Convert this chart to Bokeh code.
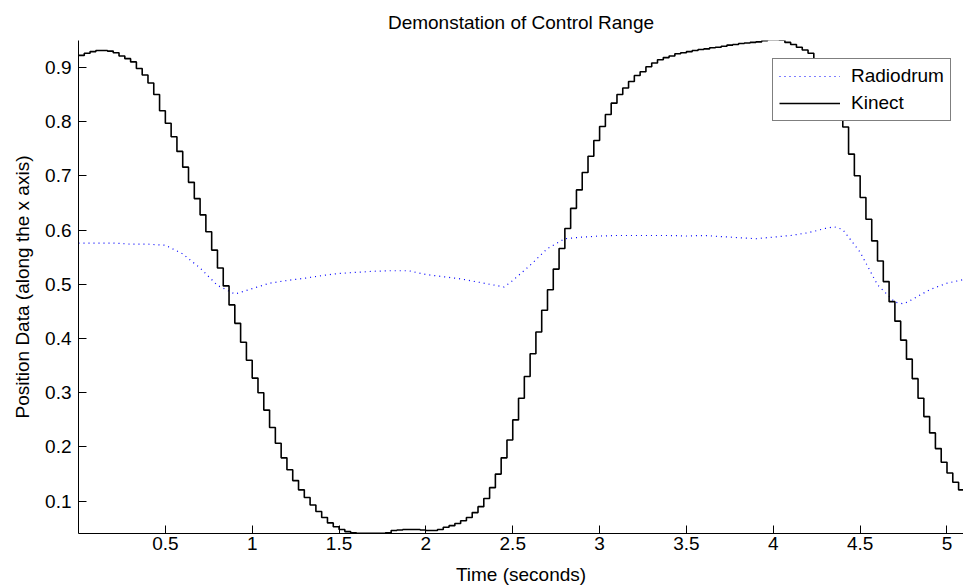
from bokeh.plotting import figure
from bokeh.models import FixedTicker, Range1d, Legend, LegendItem
from bokeh.embed import file_html
from bokeh.resources import INLINE

title_text = "Demonstation of Control Range"
x_label = "Time (seconds)"
y_label = "Position Data (along the x axis)"

x_ticks = [0.5, 1, 1.5, 2, 2.5, 3, 3.5, 4, 4.5, 5]
x_tick_labels = ["0.5", "1", "1.5", "2", "2.5", "3", "3.5", "4", "4.5", "5"]
y_ticks = [0.1, 0.2, 0.3, 0.4, 0.5, 0.6, 0.7, 0.8, 0.9]
y_tick_labels = ["0.1", "0.2", "0.3", "0.4", "0.5", "0.6", "0.7", "0.8", "0.9"]

# Kinect position, one sample per 1/30 s (drawn sample-and-hold)
kinect_y = [
    0.922, 0.926, 0.929, 0.931, 0.931, 0.930, 0.927, 0.921, 0.916, 0.910,
    0.898, 0.886, 0.871, 0.850, 0.820, 0.797, 0.772, 0.745, 0.716, 0.688,
    0.658, 0.628, 0.597, 0.563, 0.530, 0.497, 0.462, 0.428, 0.393, 0.360,
    0.327, 0.300, 0.268, 0.236, 0.207, 0.180, 0.158, 0.138, 0.121, 0.107,
    0.093, 0.081, 0.070, 0.060, 0.053, 0.048, 0.044, 0.042, 0.041, 0.041,
    0.041, 0.041, 0.041, 0.042, 0.046, 0.047, 0.048, 0.048, 0.048, 0.047,
    0.046, 0.046, 0.048, 0.052, 0.055, 0.059, 0.064, 0.070, 0.079, 0.090,
    0.105, 0.125, 0.150, 0.180, 0.213, 0.250, 0.290, 0.330, 0.372, 0.412,
    0.452, 0.490, 0.528, 0.566, 0.603, 0.640, 0.674, 0.706, 0.736, 0.765,
    0.791, 0.813, 0.834, 0.850, 0.862, 0.874, 0.885, 0.892, 0.901, 0.908,
    0.914, 0.918, 0.921, 0.925, 0.927, 0.929, 0.931, 0.933, 0.934, 0.936,
    0.937, 0.939, 0.941, 0.942, 0.944, 0.945, 0.946, 0.947, 0.949, 0.951,
    0.951, 0.950, 0.946, 0.942, 0.937, 0.932, 0.926, 0.915, 0.898, 0.875,
    0.850, 0.822, 0.790, 0.740, 0.700, 0.660, 0.620, 0.580, 0.543, 0.505,
    0.468, 0.432, 0.397, 0.362, 0.326, 0.290, 0.256, 0.226, 0.197, 0.172,
    0.152, 0.135, 0.121, 0.108,
]
kinect_t = [round(k / 30, 4) for k in range(len(kinect_y))]

radiodrum_t = [
    0.0, 0.1, 0.2, 0.3, 0.4, 0.5, 0.6, 0.7, 0.8, 0.9,
    1.0, 1.1, 1.2, 1.3, 1.4, 1.5, 1.6, 1.7, 1.8, 1.9,
    2.0, 2.1, 2.2, 2.3, 2.4, 2.45, 2.5, 2.6, 2.7, 2.8, 2.9,
    3.0, 3.1, 3.2, 3.3, 3.4, 3.5, 3.6, 3.7, 3.8, 3.9,
    4.0, 4.1, 4.2, 4.3, 4.35, 4.4, 4.5, 4.6, 4.7, 4.75, 4.8, 4.9,
    5.0, 5.1,
]
radiodrum_y = [
    0.576, 0.576, 0.576, 0.574, 0.574, 0.572, 0.556, 0.530, 0.498, 0.482,
    0.492, 0.502, 0.507, 0.511, 0.516, 0.520, 0.522, 0.524, 0.525, 0.525,
    0.518, 0.514, 0.510, 0.504, 0.498, 0.495, 0.507, 0.535, 0.566, 0.584, 0.587,
    0.589, 0.590, 0.590, 0.590, 0.590, 0.589, 0.590, 0.588, 0.586, 0.584,
    0.587, 0.590, 0.595, 0.603, 0.606, 0.601, 0.559, 0.499, 0.467, 0.464, 0.472, 0.490,
    0.502, 0.509,
]

FONT = "Liberation Sans"
FS = "19px"

p = figure(
    width=963, height=588,
    output_backend="svg", toolbar_location=None,
    x_range=Range1d(0, 5.095), y_range=Range1d(0.0405, 0.9495),
    min_border_left=78, min_border_right=0, min_border_top=40, min_border_bottom=55,
    title=title_text,
)
p.title.align = "center"
p.title.text_font = FONT
p.title.text_font_size = FS
p.title.text_font_style = "normal"
p.title.text_color = "#000000"
p.title.standoff = 16

p.outline_line_color = None
p.xgrid.visible = False
p.ygrid.visible = False
p.background_fill_color = "white"
p.border_fill_color = "white"

for ax, ticks, labels, lab in (
    (p.xaxis[0], x_ticks, x_tick_labels, x_label),
    (p.yaxis[0], y_ticks, y_tick_labels, y_label),
):
    ax.ticker = FixedTicker(ticks=ticks)
    ax.major_label_overrides = {float(t): l for t, l in zip(ticks, labels)}
    ax.major_tick_in = 8
    ax.major_tick_out = 0
    ax.minor_tick_line_color = None
    ax.axis_line_color = "black"
    ax.major_tick_line_color = "black"
    ax.major_label_text_font = FONT
    ax.major_label_text_font_size = FS
    ax.major_label_text_color = "#000000"
    ax.axis_label = lab
    ax.axis_label_text_font = FONT
    ax.axis_label_text_font_size = FS
    ax.axis_label_text_font_style = "normal"
    ax.axis_label_text_color = "#000000"

p.xaxis[0].major_label_standoff = 3
p.xaxis[0].axis_label_standoff = 11
p.yaxis[0].major_label_standoff = 7
p.yaxis[0].axis_label_standoff = 9

r_radio = p.line(radiodrum_t, radiodrum_y, line_color="#0000ff", line_width=1.2,
                 line_dash="1 4")
r_kin = p.step(kinect_t, kinect_y, mode="after", line_color="black", line_width=1.6)

legend = Legend(
    items=[LegendItem(label="Radiodrum", renderers=[r_radio]),
           LegendItem(label="Kinect", renderers=[r_kin])],
    location=(694, 412),
    margin=0, padding=6, spacing=5,
    glyph_width=61, glyph_height=20, label_height=20, label_standoff=11,
    label_text_font=FONT, label_text_font_size=FS, label_text_color="#000000",
    border_line_color="black", border_line_width=1,
    background_fill_color="white", background_fill_alpha=1.0,
)
p.add_layout(legend, "center")

open("out.html", "w").write(file_html(p, INLINE))
